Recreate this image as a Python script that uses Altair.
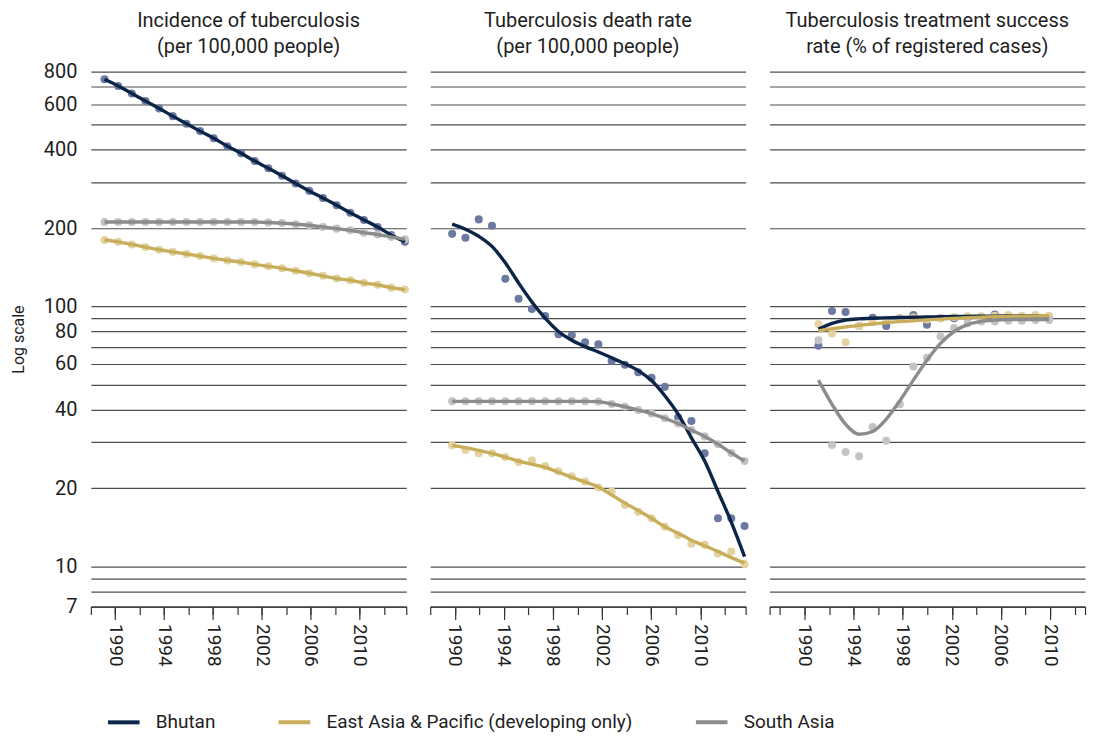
import altair as alt
import pandas as pd

# ---------------- data ----------------
series = ["Bhutan", "East Asia & Pacific (developing only)", "South Asia"]

years_main = list(range(1990, 2013))      # 23 yearly observations
years_success = list(range(1994, 2012))   # 18 yearly observations

# Incidence of tuberculosis (per 100,000 people)
incidence_bhutan = [747, 704, 659, 616, 577, 539, 504, 472, 443, 413, 388, 362,
                    340, 318, 297, 278, 261, 245, 229, 215, 202, 188, 177]
incidence_eap = [180, 177, 173, 169, 165, 162, 159, 156, 153, 150, 148, 145,
                 142.5, 140, 137, 134, 131, 128, 126, 123, 121, 118, 116]
incidence_sa = [211, 211, 211, 211, 211, 211, 211, 211, 211, 211, 211, 211,
                210, 209, 207, 205, 202, 199, 196, 192, 189, 185, 181]

# Tuberculosis death rate (per 100,000 people)
death_bhutan = [190, 183.5, 216, 204, 127.6, 107, 97.6, 91.7, 78.1, 77.4, 72.7, 71.4,
                61.6, 59.6, 55.8, 53.1, 49, 37.4, 36.2, 27.2, 15.3, 15.3, 14.3]
death_eap = [29.2, 28, 27.2, 27.2, 26.3, 25.2, 25.5, 24.3, 23.2, 22.2, 21.2, 20.1,
             19.4, 17.2, 16.2, 15.3, 14.2, 13.2, 12.2, 12.1, 11.2, 11.4, 10.2]
death_sa = [43.1, 43.1, 43.1, 43.1, 43.1, 43.1, 43.1, 43.1, 43.1, 43.1, 43.1, 43,
            42.1, 41.1, 39.9, 38.7, 37.1, 35.4, 33.4, 31.6, 29.5, 27.3, 25.4]
# smoothed trend lines
death_bhutan_trend = [207, 198, 186, 170, 147, 123, 104, 90, 80, 74, 70, 66.7,
                      63.4, 60.1, 56.6, 51.8, 45.3, 38.5, 31.2, 25.4, 19.4, 14.8, 10.9]
death_eap_trend = [29.2, 28.6, 27.9, 27.2, 26.3, 25.4, 24.7, 24.0, 23.0, 22.0, 21.1, 20.2,
                   18.8, 17.5, 16.4, 15.3, 14.2, 13.4, 12.6, 12.0, 11.4, 10.8, 10.3]

# Tuberculosis treatment success rate (% of registered cases)
success_bhutan = [70.5, 96, 95, 84, 90.4, 84, 90, 92.5, 85, 90, 90, 90.5, 91, 93, 91.5, 91, 91.5, 91]
success_eap = [85.5, 78.6, 72.8, 84, 87, 89, 90, 90.5, 89, 90, 91, 91.5, 91.5, 92, 92.5, 92, 92.5, 92]
success_sa = [74, 29.3, 27.5, 26.5, 34.3, 30.4, 42, 58.7, 63.4, 76.5, 82.5, 86, 87.5, 87.5, 88, 88, 88.5, 88.5]
success_bhutan_trend = [81.7, 86, 88.5, 89.5, 90, 90.3, 90.6, 90.8, 91, 91.2, 91.4, 91.5, 91.6, 91.7, 91.8, 91.9, 92, 92]
success_eap_trend = [80.5, 82, 83.3, 84.5, 85.5, 86.5, 87.3, 88, 88.7, 89.3, 89.9, 90.4, 90.8, 91.2, 91.5, 91.7, 91.9, 92]
success_sa_trend = [52, 42, 35.2, 32.2, 33, 36.8, 43.3, 52, 62, 72, 80, 85, 87.5, 88.5, 89, 89, 89, 89]

panel_titles = [
    ["Incidence of tuberculosis", "(per 100,000 people)"],
    ["Tuberculosis death rate", "(per 100,000 people)"],
    ["Tuberculosis treatment success", "rate (% of registered cases)"],
]

y_grid_values = [7, 8, 9, 10, 20, 30, 40, 50, 60, 70, 80, 90, 100, 200, 300, 400, 500, 600, 700, 800]
y_label_values = [7, 10, 20, 40, 60, 80, 100, 200, 400, 600, 800]
x_label_years = [1990, 1994, 1998, 2002, 2006, 2010]

# ---------------- styling ----------------
FONT = "Roboto"
TEXT = "#1e1e1e"
line_colors = ["#0b2447", "#c8ad5a", "#8c8c8c"]
point_colors = ["#6c79a3", "#e3d3a0", "#c3c3c3"]

PANEL_W = 316
PANEL_H = 536


def long_table(years, values_by_series, key):
    rows = []
    for s, vals in zip(series, values_by_series):
        for yr, v in zip(years, vals):
            rows.append({"year": yr, key: s, "value": v})
    return pd.DataFrame(rows)


legend = alt.Legend(
    title=None, orient="none", legendX=15, legendY=634, direction="horizontal",
    symbolType="stroke", symbolStrokeWidth=4, symbolSize=1000,
    labelFont=FONT, labelFontSize=19, labelColor=TEXT, labelOffset=14,
    columnPadding=55, labelLimit=500,
)


def panel(idx, pts_df, trend_df, data_domain, axis_domain, show_y, title_offset):
    y_axis = alt.Axis(
        values=y_grid_values, grid=True, domain=False, ticks=False,
        labels=show_y, format="d",
        labelExpr="indexof(%s, datum.value) >= 0 ? datum.label : ''" % str(y_label_values),
        labelFont=FONT, labelFontSize=20, labelColor=TEXT, labelPadding=14,
        title="Log scale" if show_y else None,
        titleFont=FONT, titleFontSize=16, titleFontWeight="normal", titleColor=TEXT,
        titlePadding=17,
        gridColor="#4d4d4d", gridWidth=1.2, gridOpacity=1,
    )
    y = alt.Y("value:Q", scale=alt.Scale(type="log", domain=[7, 800], nice=False), axis=y_axis)
    xs = alt.X("year:Q", scale=alt.Scale(domain=data_domain, nice=False, zero=False), axis=None)

    pts = alt.Chart(pts_df).mark_circle(size=65, opacity=1).encode(
        x=xs, y=y,
        fill=alt.Fill("observed:N", scale=alt.Scale(range=point_colors), legend=None),
    )
    lines = alt.Chart(trend_df).mark_line(strokeWidth=3.4, interpolate="monotone").encode(
        x=xs, y=y,
        stroke=alt.Stroke("series:N", scale=alt.Scale(domain=series, range=line_colors), legend=legend),
    )

    axis_df = pd.DataFrame({"year": axis_domain})
    ax_scale = alt.Scale(domain=axis_domain, nice=False, zero=False)
    minor_vals = [axis_domain[0]] + [v for v in range(1988, 2014, 2) if axis_domain[0] < v < axis_domain[1]] + [axis_domain[1]]
    minor = alt.Chart(axis_df).mark_point(opacity=0).encode(
        x=alt.X("year:Q", scale=ax_scale, axis=alt.Axis(
            orient="bottom", values=minor_vals, tickSize=8, labels=False, grid=False,
            domain=True, title=None, domainColor="#333333", domainWidth=1.2,
            tickColor="#333333", tickWidth=1.2)),
    )
    major = alt.Chart(axis_df).mark_point(opacity=0).encode(
        x=alt.X("year:Q", scale=ax_scale, axis=alt.Axis(
            orient="bottom", values=x_label_years, tickSize=13, labels=True, grid=False,
            domain=False, title=None, format="d", labelAngle=90, labelPadding=4,
            labelFont=FONT, labelFontSize=19, labelColor=TEXT,
            tickColor="#333333", tickWidth=1.2)),
    )

    return alt.layer(minor, major, pts, lines).resolve_scale(x="independent").properties(
        width=PANEL_W, height=PANEL_H,
        title=alt.TitleParams(text=panel_titles[idx], font=FONT, fontSize=20, fontWeight="normal",
                              color=TEXT, lineHeight=26, offset=title_offset, anchor="middle"),
    )


p1 = panel(0,
           long_table(years_main, [incidence_bhutan, incidence_eap, incidence_sa], "observed"),
           long_table(years_main, [incidence_bhutan, incidence_eap, incidence_sa], "series"),
           [1989, 2012.1], [1988, 2013.8], True, 5)
p2 = panel(1,
           long_table(years_main, [death_bhutan, death_eap, death_sa], "observed"),
           long_table(years_main, [death_bhutan_trend, death_eap_trend, death_sa], "series"),
           [1988.35, 2012.08], [1988, 2013.7], False, 15)
p3 = panel(2,
           long_table(years_success, [success_bhutan, success_eap, success_sa], "observed"),
           long_table(years_success, [success_bhutan_trend, success_eap_trend, success_sa_trend], "series"),
           [1990.4, 2013.65], [1987.15, 2012.85], False, 15)

chart = alt.hconcat(p1, p2, p3, spacing=24, bounds="flush").properties(
    padding={"left": 2, "top": 2, "right": 0, "bottom": 0}
).configure_view(stroke=None)

chart.save("out.html", embed_options={"renderer": "svg", "actions": False})
